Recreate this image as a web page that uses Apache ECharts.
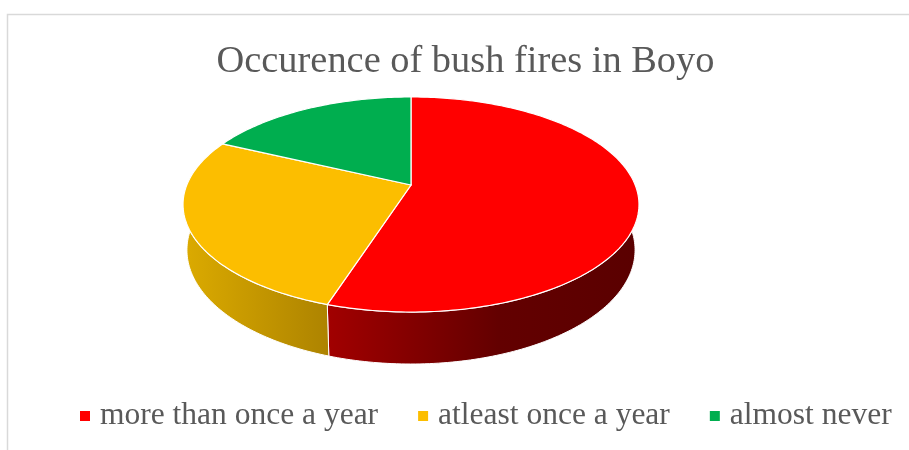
<!DOCTYPE html>
<html>
<head>
<meta charset="utf-8">
<script src="https://cdn.jsdelivr.net/npm/echarts@6/dist/echarts.min.js"></script>
<style>
    html, body { margin: 0; padding: 0; background: #fff; }
    #chart { width: 909px; height: 450px; }
</style>
</head>
<body>
<div id="chart"></div>
<script type="text/javascript">
    var categories = ['more than once a year', 'atleast once a year', 'almost never'];
    var shares = [55, 27, 18];
    var colors = ['#ff0000', '#fcbe00', '#00ae4f'];
    var wallStops = [
        [[0, '#a20000'], [0.55, '#630000'], [1, '#5a0000']],
        [[0, '#dcab00'], [1, '#ad8300']],
        [[0, '#00ae4f'], [1, '#00ae4f']]
    ];

    // perspective view of the pie disc: top face and bottom edge
    var topFace = { cx: 411, cy: 185, a: 224.2, b: 104, k: 0.1814 };
    var bottomFace = { cx: 411, cy: 229.5, a: 220.4, b: 110.3, k: 0.18 };
    // rim is only visible in front of the widest point of the ellipse
    var frontFrom = 79.6;
    var frontTo = 280.4;

    function project(face, deg) {
        var t = deg * Math.PI / 180;
        var u = Math.sin(t), v = Math.cos(t);
        var w = 1 + face.k * v;
        return [face.cx + face.a * u / w, face.cy - face.b * v / w];
    }

    function arc(face, from, to) {
        var pts = [];
        var n = Math.max(2, Math.ceil(Math.abs(to - from)));
        for (var i = 0; i <= n; i++) {
            pts.push(project(face, from + (to - from) * i / n));
        }
        return pts;
    }

    var total = shares.reduce(function (s, v) { return s + v; }, 0);

    function sliceRange(index) {
        var start = 0;
        for (var i = 0; i < index; i++) {
            start += shares[i] / total * 360;
        }
        return [start, start + shares[index] / total * 360];
    }

    function renderSlice(params, api) {
        var i = params.seriesIndex;
        var range = sliceRange(i);
        var children = [];
        var wallFrom = Math.max(range[0], frontFrom);
        var wallTo = Math.min(range[1], frontTo);
        if (wallTo > wallFrom) {
            children.push({
                type: 'polygon',
                z2: 1,
                shape: { points: arc(topFace, wallFrom, wallTo).concat(arc(bottomFace, wallTo, wallFrom)) },
                style: {
                    fill: {
                        type: 'linear', x: 0, y: 0, x2: 1, y2: 0,
                        colorStops: wallStops[i].map(function (s) {
                            return { offset: s[0], color: s[1] };
                        })
                    },
                    stroke: '#ffffff',
                    lineWidth: 1
                }
            });
        }
        children.push({
            type: 'polygon',
            z2: 2,
            shape: { points: [[topFace.cx, topFace.cy]].concat(arc(topFace, range[0], range[1])) },
            style: { fill: colors[i], stroke: '#ffffff', lineWidth: 1.2 }
        });
        return { type: 'group', children: children };
    }

    var chart = echarts.init(document.getElementById('chart'), null, { renderer: 'canvas' });
    var option = {
        animation: false,
        backgroundColor: '#ffffff',
        color: colors,
        title: {
            text: 'Occurence of bush fires in Boyo',
            left: 460.5,
            top: 38,
            textAlign: 'center',
            textStyle: {
                fontFamily: 'Liberation Serif',
                fontSize: 38.4,
                fontWeight: 'normal',
                color: '#595959'
            }
        },
        legend: {
            data: categories,
            left: 75,
            top: 395,
            icon: 'rect',
            itemWidth: 10,
            itemHeight: 10,
            itemGap: 40,
            padding: 5,
            textStyle: {
                fontFamily: 'Liberation Serif',
                fontSize: 31.5,
                color: '#595959',
                padding: [4, 0, 0, 5]
            }
        },
        graphic: [{
            type: 'rect',
            silent: true,
            shape: { x: 7.5, y: 14.5, width: 1000, height: 500 },
            style: { fill: 'none', stroke: '#d9d9d9', lineWidth: 1.5 }
        }],
        series: categories.map(function (name, i) {
            return {
                type: 'custom',
                name: name,
                coordinateSystem: 'none',
                renderItem: renderSlice,
                data: [[shares[i]]]
            };
        })
    };
    chart.setOption(option);
</script>
</body>
</html>
